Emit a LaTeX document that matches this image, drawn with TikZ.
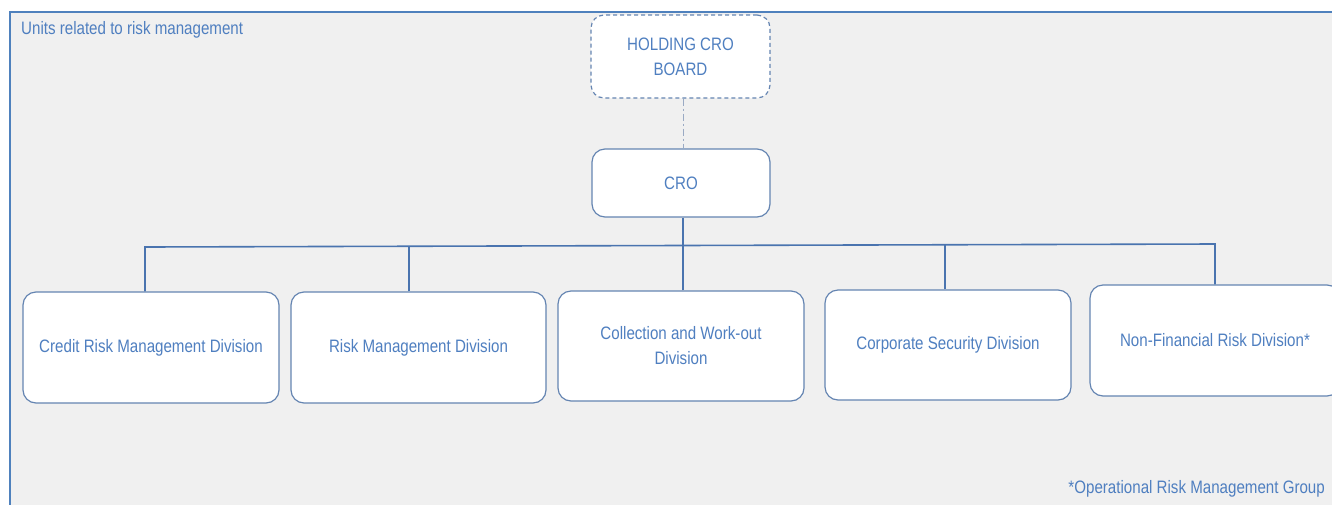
\documentclass[tikz,border=0pt]{standalone}
\usepackage{fontspec}
\setmainfont{Liberation Sans}[FakeStretch=0.84]
\definecolor{txt}{HTML}{4F7FC0}
\definecolor{bord}{HTML}{6585B2}
\definecolor{wire}{HTML}{4A74AF}
\definecolor{bgc}{HTML}{F0F0F0}
\definecolor{frameblue}{HTML}{4F81BD}
\definecolor{dashc}{HTML}{9AAAC4}
\begin{document}
\begin{tikzpicture}[x=1pt,y=-1pt,
  every node/.style={font=\fontsize{18}{25}\selectfont, text=txt},
  unit/.style={draw=bord, line width=1.2pt, fill=white, rounded corners=13pt, align=center, inner sep=0pt},
  hold/.style={unit, dashed, dash pattern=on 4pt off 3pt},
  wirestyle/.style={draw=wire, line width=1.6pt},
  label/.style={anchor=west, inner sep=0pt}]
\useasboundingbox (0,0) rectangle (1332,504);
\fill[bgc] (9.5,11.5) rectangle (1340,510);
\draw[draw=frameblue, line width=2pt] (9.5,510) -- (9.5,11.5) -- (1340,11.5);
\node[label] (title) at (21,30) {Units related to risk management};
\node[hold, minimum width=179pt, minimum height=83pt] (hold) at (680.5,56.5) {HOLDING CRO\\BOARD};
\node[unit, minimum width=178pt, minimum height=68pt] (cro) at (681,183) {CRO};
\node[unit, minimum width=256pt, minimum height=111pt] (d1) at (151,347.5) {Credit Risk Management Division};
\node[unit, minimum width=255pt, minimum height=111pt] (d2) at (418.5,347.5) {Risk Management Division};
\node[unit, minimum width=246pt, minimum height=110pt] (d3) at (681,346) {Collection and Work-out\\Division};
\node[unit, minimum width=246pt, minimum height=110pt] (d4) at (948,345) {Corporate Security Division};
\node[unit, minimum width=250pt, minimum height=111pt] (d5) at (1215,340.5) {Non-Financial Risk Division*};
\node[anchor=east, inner sep=0pt] (foot) at (1325,489) {*Operational Risk Management Group};
\draw[draw=dashc, line width=1pt, dash pattern=on 7pt off 3pt on 2pt off 3pt] (hold.south -| 683,0) -- (cro.north -| 683,0);
\coordinate (bus) at (683,246);
\draw[wirestyle] (cro.south -| 683,0) -- (bus);
\draw[wirestyle] (d1.north -| 145,0) -- (145,247) -- (1215,244) -- (d5.north -| 1215,0);
\draw[wirestyle] (d2.north -| 409,0) -- (409,246.3);
\draw[wirestyle] (d3.north -| 683,0) -- (bus);
\draw[wirestyle] (d4.north -| 945,0) -- (945,244.8);
\end{tikzpicture}
\end{document}
